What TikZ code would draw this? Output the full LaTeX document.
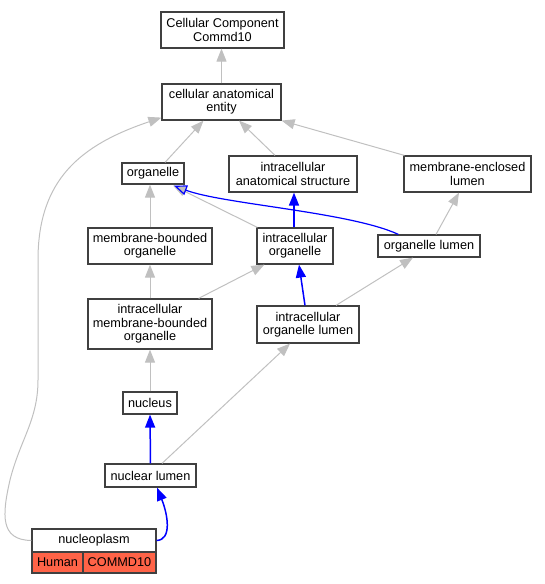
\documentclass[tikz,border=0pt]{standalone}
\usepackage{fontspec}
\setmainfont{Liberation Sans}
\usetikzlibrary{arrows.meta}
\definecolor{edgegray}{HTML}{C0C0C0}
\definecolor{tomatofill}{HTML}{FF6347}
\tikzset{
  box/.style={draw=black!75, line width=1.2pt, fill=white, inner sep=0pt, align=center,
    font=\fontsize{12.7}{13.3}\selectfont},
  isa/.style={draw=edgegray, line width=1pt, -{Triangle[length=13pt,width=10pt]}, edgegray},
  partof/.style={draw=blue, line width=1.5pt, -{Triangle[length=13pt,width=10pt]}, blue},
  partopen/.style={draw=blue, line width=1.2pt, -{Triangle[open,length=13pt,width=10pt]}, blue},
}
\begin{document}
\begin{tikzpicture}[x=1pt,y=-1pt]
\useasboundingbox (0,0) rectangle (545,584);
% nodes
\node[box, minimum width=123pt, minimum height=36pt] (cc)   at (222.5,30)  {Cellular Component\\Commd10};
\node[box, minimum width=119pt, minimum height=36pt] (cae)  at (221.5,102) {cellular anatomical\\entity};
\node[box, minimum width=62pt,  minimum height=21pt] (org)  at (153,173.5) {organelle};
\node[box, minimum width=128pt, minimum height=36pt] (ias)  at (293,174)   {intracellular\\anatomical structure};
\node[box, minimum width=127pt, minimum height=36pt] (mel)  at (467.5,174) {membrane-enclosed\\lumen};
\node[box, minimum width=124pt, minimum height=36pt] (mbo)  at (150,246)   {membrane-bounded\\organelle};
\node[box, minimum width=76pt,  minimum height=36pt] (io)   at (295,246)   {intracellular\\organelle};
\node[box, minimum width=102pt, minimum height=22pt] (ol)   at (429,246)   {organelle lumen};
\node[box, minimum width=124pt, minimum height=50pt] (imbo) at (150,324)   {intracellular\\membrane-bounded\\organelle};
\node[box, minimum width=102pt, minimum height=37pt] (iol)  at (308,324.5) {intracellular\\organelle lumen};
\node[box, minimum width=54pt,  minimum height=22pt] (nuc)  at (150,403)   {nucleus};
\node[box, minimum width=91pt,  minimum height=23pt] (nl)   at (150.5,475.5) {nuclear lumen};
\node[box, minimum width=124pt, minimum height=23pt] (np)   at (94,540.5)  {nucleoplasm};
\node[box, fill=tomatofill, minimum width=51pt, minimum height=21pt] (hum) at (57.5,562.5) {Human};
\node[box, fill=tomatofill, minimum width=73pt, minimum height=21pt] (gene) at (119.5,562.5) {COMMD10};
% edges
\draw[isa] (cae.north) -- (cae.north |- cc.south);
\draw[isa] ([xshift=12pt]org.north) -- ([xshift=-18pt]cae.south);
\draw[isa] ([xshift=-18pt]ias.north) -- ([xshift=17.5pt]cae.south);
\draw[isa] ([xshift=1pt]mel.north west) -- (cae.south east);
\draw[isa] (np.west) .. controls (0,540) and (2,515) .. (10,480)
  .. controls (20,440) and (38,420) .. (38,380) -- (38,260)
  .. controls (38,180) and (80,145) .. ([yshift=3pt]cae.south west);
\draw[isa] (mbo.north) -- (mbo.north |- org.south);
\draw[isa] ([xshift=1pt]io.north west) -- ([xshift=20pt,yshift=-1pt]org.south);
\draw[partopen] ([xshift=21pt]ol.north west) .. controls (350,212) and (222,204) .. ([xshift=21pt,yshift=-1pt]org.south);
\draw[partof] ([xshift=-1pt]io.north) -- ([xshift=-1pt]io.north |- ias.south);
\draw[isa] ([xshift=7pt]ol.north) -- ([xshift=-8.5pt]mel.south);
\draw[isa] (imbo.north) -- (mbo.south);
\draw[isa] ([xshift=-14pt]imbo.north east) -- ([xshift=8pt]io.south west);
\draw[partof] ([xshift=-3pt]iol.north) -- ([xshift=4pt]io.south);
\draw[isa] ([xshift=28pt]iol.north) -- ([xshift=-16pt]ol.south);
\draw[isa] (nuc.north) -- (imbo.south);
\draw[partof] (nl.north) -- (nuc.south);
\draw[isa] ([xshift=11.5pt]nl.north) -- ([xshift=-18pt]iol.south);
\draw[partof] (np.east) .. controls (172,540) and (168,515) .. ([xshift=6.5pt]nl.south);
\end{tikzpicture}
\end{document}
